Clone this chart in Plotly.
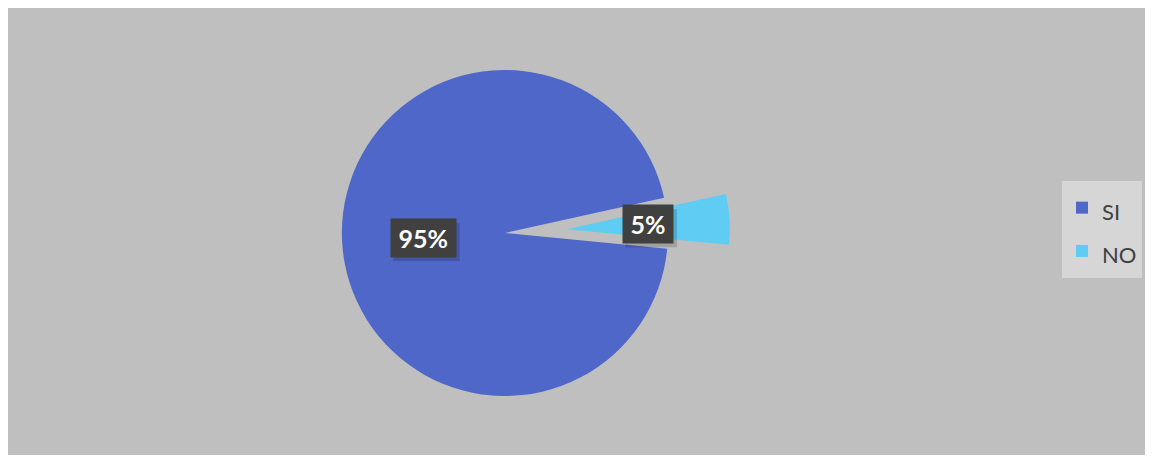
import math
import plotly.graph_objects as go

# ---- data ----
labels = ["SI", "NO"]
values = [95, 5]
colors = ["#4E67C8", "#5ECCF3"]
pulls = [0, 0.38]

# the page body adds an 8px margin, so the figure is 8px smaller than the window
W, H = 1145, 450
rotation = 95.5
dom_x = [0.184, 0.684]
dom_y = [0.0, 1.0]

legend_labels = [f"<span style='font-size:22px'>{l}</span>" for l in labels]

fig = go.Figure()
fig.add_trace(go.Pie(
    labels=legend_labels, values=values, sort=False, direction="clockwise",
    rotation=rotation, pull=pulls,
    marker=dict(colors=colors, line=dict(width=0)),
    textinfo="none", hoverinfo="label+percent",
    domain=dict(x=dom_x, y=dom_y),
))

# label boxes placed at mid-radius of each slice (derived from the data)
cx = W * (dom_x[0] + dom_x[1]) / 2
boxh = H * (dom_y[1] - dom_y[0])
cy = H * (1 - dom_y[0]) - boxh / 2
r = min(W * (dom_x[1] - dom_x[0]) / 2, boxh / 2) / (1 + max(pulls))
total = sum(values)
start = rotation
annotations = []
shapes = [dict(type="rect", xref="paper", yref="paper",
               x0=0, x1=1142 / W, y0=1 - 447 / H, y1=1,
               fillcolor="#BFBFBF", line=dict(width=0), layer="below")]
FS = 25
for v, p in zip(values, pulls):
    span = 360 * v / total
    mid = math.radians(start + span / 2)
    start += span
    ox = cx + p * r * math.sin(mid)
    oy = cy - p * r * math.cos(mid)
    lx = ox + 0.5 * r * math.sin(mid)
    ly = oy - 0.5 * r * math.cos(mid)
    pct = f"{round(100 * v / total)}%"
    sp = "<span style='font-size:14px'>&nbsp;</span>"
    txt = f"{sp}<b>{pct}</b>{sp}"
    # approximate label box size for a soft drop shadow
    bw = 0.58 * FS * (len(pct) - 1) + 0.85 * FS + 16
    bh = 38
    shapes.append(dict(type="rect", xref="paper", yref="paper", layer="above",
                       x0=(lx - bw / 2 + 3) / W, x1=(lx + bw / 2 + 3) / W,
                       y0=1 - (ly + bh / 2 + 4) / H, y1=1 - (ly - bh / 2 + 4) / H,
                       fillcolor="rgba(0,0,0,0.16)", line=dict(width=0)))
    annotations.append(dict(
        x=lx / W, y=1 - ly / H, xref="paper", yref="paper",
        text=txt, showarrow=False, bgcolor="#404040",
        font=dict(family="Lato", size=FS, color="#FFFFFF"),
        borderpad=4,
    ))

fig.update_layout(
    width=W, height=H,
    margin=dict(l=0, r=0, t=0, b=0),
    paper_bgcolor="#FFFFFF",
    font=dict(family="Lato", color="#404040"),
    shapes=shapes,
    annotations=annotations,
    showlegend=True,
    legend=dict(x=1054 / W, y=1 - 173 / H, xanchor="left", yanchor="top",
                bgcolor="#D6D6D6", font=dict(family="Lato", size=31, color="#404040"),
                itemclick=False),
)

fig.write_html("out.html")
